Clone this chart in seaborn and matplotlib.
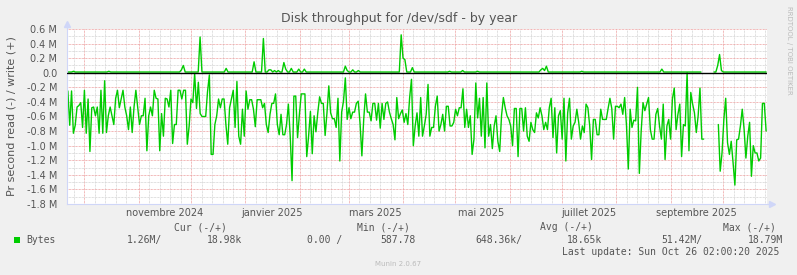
import numpy as np
import pandas as pd
import matplotlib
matplotlib.use("Agg")
import matplotlib.pyplot as plt
import matplotlib.dates as mdates
from matplotlib.patches import Rectangle
import seaborn as sns

sns.set_theme(style="white")
plt.rcParams["font.family"] = ["DejaVu Sans"]

# ---------------- data (MB/s, read shown negative) ----------------
read_M = [
    0.25, 0.72, 0.25, 0.83, 0.72, 0.47, 0.45, 0.41, 0.75, 0.24,
    0.83, 0.36, 1.08, 0.48, 0.47, 0.59, 0.47, 0.83, 0.24, 0.83,
    0.11, 0.82, 0.59, 0.47, 0.59, 0.71, 0.35, 0.24, 0.48, 0.36,
    0.24, 0.47, 0.59, 0.78, 0.47, 0.82, 0.47, 0.24, 0.47, 0.71,
    0.59, 0.59, 0.35, 1.07, 0.59, 0.47, 0.59, 0.24, 0.35, 0.36,
    1.07, 0.56, 0.87, 0.35, 0.36, 0.47, 0.24, 0.97, 0.71, 0.71,
    0.24, 0.24,
    0.36, 0.24, 0.24, 0.98, 0.73, 0.36, 0.41, 0.01, 0.49, 0.13,
    0.56, 0.60, 0.60, 0.60, 0.26, 0.03, 1.12, 1.12, 0.71, 0.59,
    0.36, 0.48, 0.36, 0.36, 0.71, 0.98, 0.48, 0.36, 0.24, 0.75,
    0.12, 0.87, 0.98, 0.50, 0.87, 0.25, 0.50, 0.37, 0.37, 0.50,
    0.74, 0.37, 0.37, 0.37, 0.48, 0.42, 0.71, 0.82, 0.57, 0.42,
    0.42, 0.29, 0.71, 0.85, 0.57, 0.85, 0.85, 0.71, 0.43, 0.87,
    1.48, 0.32, 0.32,
    0.89, 0.57, 0.29, 0.29, 0.29, 1.15, 0.87, 0.53, 1.11, 0.59,
    0.81, 0.55, 0.33, 0.42, 0.42, 0.86, 0.55, 0.18, 0.55, 0.63,
    0.63, 0.75, 0.35, 1.21, 0.54, 0.39, 0.07, 0.64, 0.48, 0.63,
    0.54, 0.54, 0.42, 0.39, 0.69, 1.14, 0.64, 0.29, 0.54, 0.54,
    0.66, 0.42, 0.42, 0.65, 0.42, 0.76, 0.42, 0.64, 0.42, 0.40,
    0.54, 0.63, 0.71, 0.92, 0.34, 0.63, 0.56, 0.51, 0.68, 0.56,
    0.71, 0.34, 0.09, 1.00,
    0.73, 0.55, 0.87, 0.34, 0.87, 0.73, 0.57, 0.16, 0.87, 0.75,
    0.75, 0.46, 0.32, 0.80, 0.71, 0.57, 0.80, 0.46, 0.46, 0.73,
    0.73, 0.68, 0.50, 0.59, 0.48, 0.48, 0.22, 0.75, 0.50, 0.75,
    0.59, 1.12, 0.91, 0.14, 0.62, 0.35, 0.87, 0.34, 1.03, 0.14,
    0.87, 0.71, 1.04, 0.73, 0.59, 0.94, 1.08, 0.59, 0.34, 0.48,
    0.59, 0.64, 0.73, 1.00, 0.49, 0.49, 1.15, 0.49, 0.49, 0.80,
    0.48, 0.87, 0.94,
    0.68, 0.78, 0.82, 0.55, 0.62, 0.48, 0.59, 0.78, 0.68, 0.78,
    0.48, 0.35, 0.89, 0.48, 1.10, 0.59, 0.52, 0.91, 0.35, 1.21,
    0.55, 0.35, 0.91, 0.73, 0.68, 0.50, 0.68, 0.91, 0.73, 0.82,
    0.43, 0.48, 0.73, 1.19, 0.64, 0.64, 0.85, 0.85, 0.50, 0.64,
    0.64, 0.64, 0.49, 0.35, 0.49, 0.91, 0.46, 0.46, 0.48, 0.43,
    0.57, 0.34, 0.72, 1.32, 0.50, 0.75, 0.65, 0.66, 0.20, 1.38,
    0.80, 0.41,
    0.52, 0.43, 0.34, 0.78, 0.91, 0.91, 0.57, 0.49, 0.73, 0.91,
    0.43, 1.19, 0.73, 0.64, 0.91, 0.36, 0.21, 0.78, 0.57, 0.43,
    1.15, 0.71, 0.73, 0.00, 1.07, 0.27, 0.43, 0.55, 0.82, 0.59,
    0.21, 0.91, 0.91,
    np.nan, np.nan, np.nan, np.nan, np.nan, np.nan, np.nan,
    0.71, 1.35, 1.10, 0.64, 0.35, 0.96, 1.12, 0.94, 1.23, 1.54,
    0.92, 0.91, 0.73, 0.50, 0.77, 1.17, 0.87, 0.68, 1.42, 1.00,
    1.10, 1.10, 1.21, 1.17, 0.42, 0.42, 0.80,
]

write_M = [
    .01, .01, .01, .02, .01, .01, .01, .01, .01, .01, .01, .01, .01, .01, .01, .01, .01, .01, .01, .01,
    .01, .01, .02, .01, .01, .01, .01, .01, .01, .01, .01, .01, .01, .01, .01, .01, .01, .01, .01, .01,
    .01, .01, .01, .01, .01, .01, .01, .01, .01, .01, .01, .01, .01, .01, .01, .01, .01, .01, .01, .01,
    .01, .04, .10, .01, .01, .01, .01, .01, .01, .01, .01, .49, .01, .01, .01, .01, .01, .01, .01, .01,
    .01, .01, .01, .01, .01, .06, .01, .01, .01, .01, .01, .01, .01, .01, .01, .01, .01, .01, .01, .01,
    .15, .01, .01, .01, .01, .47, .01, .01, .04, .04, .01, .03, .01, .03, .01, .01, .14, .05, .01, .01,
    .06, .01, .01, .01, .05, .01, .01, .05, .01, .01, .01, .01, .01, .01, .01, .01, .01, .01, .01, .01,
    .01, .01, .01, .01, .01, .01, .01, .01, .01, .09, .03, .01, .01, .04, .01, .01, .03, .01, .01, .01,
    .01, .01, .01, .01, .01, .01, .01, .01, .01, .01, .01, .01, .01, .01, .01, .01, .01, .01, .01, .52,
    .20, .18, .01, .01, .01, .07, .01, .01, .01, .01, .01, .01, .01, .01, .01, .01, .01, .01, .01, .01,
    .01, .01, .01, .01, .01, .02, .01, .01, .01, .01, .01, .01, .03, .01, .01, .01, .01, .01, .01, .01,
    .02, .01, .01, .01, .01, .01, .01, .01, .01, .01, .01, .01, .01, .01, .01, .01, .01, .01, .01, .01,
    .01, .01, .01, .01, .01, .01, .01, .01, .01, .01, .01, .01, .01, .01, .04, .06, .03, .09, .01, .01,
    .01, .01, .01, .01, .01, .01, .01, .01, .01, .01, .01, .01, .01, .01, .01, .01, .02, .01, .01, .01,
    .01, .01, .01, .01, .01, .01, .01, .01, .01, .01, .01, .01, .01, .01, .01, .01, .01, .01, .01, .01,
    .01, .01, .01, .01, .01, .01, .01, .01, .01, .01, .01, .01, .01, .01, .01, .01, .01, .01, .01, .05,
    .01, .01, .01, .01, .01, .01, .01, .01, .01, .01, .01, .01, .01, .01, .01, .01, .01, .01, .01, .01,
    .01, np.nan, np.nan, np.nan, np.nan, np.nan, np.nan, .01, .01, .10, .25, .03, .01, .01, .01, .01, .01, .01, .01, .01,
    .01, .01, .01, .01, .01, .01, .01, .01, .01, .01, .01, .01, .01, .01, .01, .01,
]

data_start = "2024-09-21 14:00"
data_end = "2025-10-25 14:00"
view_start = "2024-09-21 02:00"
view_end = "2025-10-26 02:00"

x_label_months = ["2024-11-01", "2025-01-01", "2025-03-01", "2025-05-01", "2025-07-01", "2025-09-01"]
x_label_texts = ["novembre 2024", "janvier 2025", "mars 2025", "mai 2025", "juillet 2025", "septembre 2025"]

legend_headers = ["Cur (-/+)", "Min (-/+)", "Avg (-/+)", "Max (-/+)"]
legend_values = ["1.26M/", "18.98k", "0.00 /", "587.78", "648.36k/", "18.65k", "51.42M/", "18.79M"]
series_name = "Bytes"
last_update = "Last update: Sun Oct 26 02:00:20 2025"
title = "Disk throughput for /dev/sdf - by year"
ylabel = "Pr second read (-) / write (+)"

# ---------------- build frames ----------------
def to_frame(values, sign):
    t = pd.date_range(data_start, data_end, periods=len(values))
    df = pd.DataFrame({"time": t, "val": np.array(values, dtype=float) * sign * 1e6})
    df["seg"] = df["val"].isna().cumsum()
    return df.dropna()

rd = to_frame(read_M, -1)
wr = to_frame(write_M, 1)

W, H = 797, 275
fig = plt.figure(figsize=(W / 100, H / 100), dpi=100, facecolor="#F0F0F0")
L, R, T, B = 67, 767, 29, 204
ax = fig.add_axes([L / W, 1 - B / H, (R - L) / W, (B - T) / H])
ax.set_facecolor("white")

x0, x1 = pd.Timestamp(view_start), pd.Timestamp(view_end)
ax.set_xlim(x0, x1)
ax.set_ylim(-1.8e6, 0.6e6)

# grids
minor_col = "#D4D4D4"
major_col = "#EDA0A0"
dash = (0, (0.72, 0.72))
ax.xaxis.set_major_locator(mdates.MonthLocator())
ax.xaxis.set_minor_locator(mdates.DayLocator(bymonthday=[7, 13, 19, 25]))
ax.yaxis.set_major_locator(matplotlib.ticker.MultipleLocator(0.2e6))
ax.yaxis.set_minor_locator(matplotlib.ticker.MultipleLocator(0.1e6))
ax.grid(which="minor", color=minor_col, lw=0.72, linestyle=dash)
ax.grid(which="major", color=major_col, lw=0.72, linestyle=dash)
ax.set_axisbelow(True)

def yfmt(v, pos):
    if abs(v) < 1:
        return "0.0"
    return f"{v / 1e6:.1f} M"

ax.yaxis.set_major_formatter(matplotlib.ticker.FuncFormatter(yfmt))
ax.xaxis.set_major_formatter(matplotlib.ticker.NullFormatter())
ax.tick_params(axis="y", which="major", labelsize=7, labelcolor="#555555", length=2, width=0.7,
               color="#EDA0A0", pad=5)
ax.tick_params(axis="y", which="minor", length=0)
ax.tick_params(axis="x", which="major", length=2, width=0.7, color="#E07070", pad=2)
ax.tick_params(axis="x", which="minor", length=2, width=0.7, color="#B0B0B0")

for s in ["top", "right"]:
    ax.spines[s].set_visible(False)
for s in ["left", "bottom"]:
    ax.spines[s].set_color("#CFD6F8")
    ax.spines[s].set_linewidth(0.8)

# data lines
sns.lineplot(data=wr, x="time", y="val", units="seg", estimator=None, color="#00CC00",
             lw=1.0, ax=ax, legend=False)
sns.lineplot(data=rd, x="time", y="val", units="seg", estimator=None, color="#00CC00",
             lw=1.0, ax=ax, legend=False)
ax.axhline(0, color="black", lw=1.0, zorder=5)
ax.set_xlabel("")
ax.set_ylabel("")

# axis arrows
ax.plot([0, 0], [1, 1.025], transform=ax.transAxes, color="#CFD6F8", lw=0.8, clip_on=False)
ax.plot([0], [1.03], marker="^", ms=4, color="#CFD6F8", transform=ax.transAxes, clip_on=False)
ax.plot([1, 1.005], [0, 0], transform=ax.transAxes, color="#CFD6F8", lw=0.8, clip_on=False)
ax.plot([1.007], [0], marker=">", ms=4, color="#CFD6F8", transform=ax.transAxes, clip_on=False)

# x labels (centered mid-month)
tr = matplotlib.transforms.blended_transform_factory(ax.transData, fig.transFigure)
for m, txt in zip(x_label_months, x_label_texts):
    xc = pd.Timestamp(m) + pd.Timedelta(days=15)
    ax.text(mdates.date2num(xc), 1 - 212.5 / H, txt, transform=tr, ha="center", va="center",
            fontsize=7, color="#555555")

def ftext(x, y, s, **kw):
    fig.text(x / W, 1 - y / H, s, **kw)

ftext(399, 18.5, title, ha="center", va="center", fontsize=9, color="#555555")
ftext(12, 116, ylabel, ha="center", va="center", rotation=90, fontsize=8, color="#555555")
ftext(789, 6, "RRDTOOL / TOBI OETIKER", ha="center", va="top", rotation=270, fontsize=5,
      color="#BBBBBB")

mono = dict(family="DejaVu Sans Mono", fontsize=7, color="#555555", va="center", ha="left")
for x, s in zip([173.5, 357, 540, 722.7], legend_headers):
    ftext(x, 227.5, s, **mono)
ftext(26.5, 239.8, series_name, **mono)
for x, s in zip([126.7, 206.7, 306.7, 380.7, 475, 567.3, 661.7, 747.7], legend_values):
    ftext(x, 239.8, s, **mono)
ftext(561.7, 251.8, last_update, **mono)
fig.patches.append(Rectangle((14 / W, 1 - 243 / H), 6 / W, 6 / H, transform=fig.transFigure,
                             facecolor="#00CC00", edgecolor="none"))
ftext(398, 264, "Munin 2.0.67", ha="center", va="center", fontsize=5, color="#BBBBBB")

fig.savefig("out.png", dpi=100, facecolor=fig.get_facecolor())
